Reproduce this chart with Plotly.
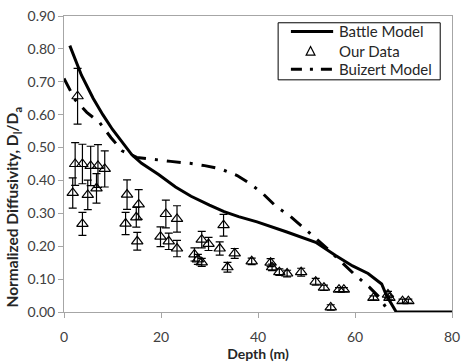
import plotly.graph_objects as go

# Battle model (solid line)
battle_depth = [1.2, 3.6, 6.0, 8.0, 10.0, 12.0, 14.0, 16.0, 19.5, 23.0, 26.2, 30.0, 33.0, 36.0, 39.8,
                45.8, 51.9, 56.0, 59.5, 62.7, 65.5, 66.5, 68.5, 80.0]
battle_val = [0.81, 0.72, 0.65, 0.60, 0.555, 0.515, 0.478, 0.452, 0.418, 0.38, 0.352, 0.325, 0.305,
              0.29, 0.274, 0.244, 0.212, 0.172, 0.14, 0.117, 0.085, 0.05, 0.0, 0.0]

# Buizert model (dash-dot line)
buizert_depth = [0.0, 2.3, 4.7, 7.4, 9.7, 12.0, 15.0, 18.5, 22.0, 26.0, 29.0, 32.3, 35.7, 38.4,
                 41.0, 43.8, 46.5, 51.9, 54.5, 59.7, 63.0, 65.0, 67.0]
buizert_val = [0.71, 0.645, 0.607, 0.575, 0.53, 0.49, 0.47, 0.463, 0.458, 0.452, 0.445, 0.435, 0.415,
               0.39, 0.36, 0.32, 0.293, 0.224, 0.19, 0.117, 0.075, 0.045, 0.0]

# Our data (triangles with error bars)
data_depth = [2.8, 2.3, 3.8, 5.5, 7.0, 8.4, 1.8, 4.9, 6.7, 3.8,
              13.0, 15.4, 12.7, 14.9, 15.1, 21.0, 23.3, 19.9, 21.6, 23.3, 26.9,
              32.9, 28.4, 29.8, 32.1, 27.6, 28.4, 35.2, 33.7, 38.7,
              42.6, 42.9, 44.4, 46.0, 48.9, 51.9, 53.6, 55.0, 56.7, 57.7,
              63.8, 66.8, 67.1, 69.8, 71.0]
data_val = [0.656, 0.45, 0.45, 0.444, 0.444, 0.435, 0.362, 0.356, 0.376, 0.268,
            0.357, 0.327, 0.269, 0.288, 0.215, 0.298, 0.283, 0.229, 0.215, 0.193, 0.175,
            0.264, 0.22, 0.207, 0.193, 0.16, 0.151, 0.178, 0.136, 0.154,
            0.150, 0.136, 0.121, 0.117, 0.121, 0.092, 0.074, 0.014, 0.068, 0.068,
            0.043, 0.053, 0.043, 0.033, 0.033]
data_err = [0.085, 0.065, 0.06, 0.06, 0.065, 0.055, 0.046, 0.045, 0.045, 0.035,
            0.045, 0.045, 0.034, 0.03, 0.027, 0.042, 0.04, 0.03, 0.025, 0.025, 0.02,
            0.033, 0.025, 0.02, 0.02, 0.015, 0.012, 0.015, 0.015, 0.01,
            0.012, 0.01, 0.01, 0.01, 0.012, 0.01, 0.008, 0.008, 0.006, 0.006,
            0.006, 0.01, 0.006, 0.006, 0.006]

x_ticks = [0, 20, 40, 60, 80]
y_ticks = [0.0, 0.1, 0.2, 0.3, 0.4, 0.5, 0.6, 0.7, 0.8, 0.9]
legend_names = ["Battle Model", "Our Data", "Buizert Model"]

FONT = "Lato"
TXT = "#262626"
BUIZERT_DASH = "14px,9px,3px,9px"

fig = go.Figure()
fig.add_trace(go.Scatter(x=battle_depth, y=battle_val, mode="lines", name=legend_names[0],
                         line=dict(color="black", width=3), showlegend=False))
fig.add_trace(go.Scatter(x=data_depth, y=data_val, mode="markers", name=legend_names[1],
                         marker=dict(symbol="triangle-up-open", size=10, color="black",
                                     line=dict(width=1.2, color="black")),
                         error_y=dict(type="data", array=data_err, visible=True,
                                      color="black", thickness=1.2, width=4),
                         showlegend=False))
fig.add_trace(go.Scatter(x=buizert_depth, y=buizert_val, mode="lines", name=legend_names[2],
                         line=dict(color="black", width=3, dash=BUIZERT_DASH), showlegend=False))

axis_common = dict(showline=True, mirror=True, linecolor="#a6a6a6", linewidth=1,
                   showgrid=False, zeroline=False, ticks="outside", ticklen=5,
                   tickcolor="#a6a6a6", ticklabeloverflow="allow",
                   tickfont=dict(family=FONT, size=14, color="#404040"))
fig.update_xaxes(range=[0, 80], tickvals=x_ticks, ticklabelstandoff=7, **axis_common,
                 title=dict(text="<b>Depth (m)</b>", font=dict(family=FONT, size=14, color=TXT),
                            standoff=0))
fig.update_yaxes(range=[0, 0.9], tickvals=y_ticks, tickformat=".2f", **axis_common)

# --- custom legend (box, samples, labels) in paper coordinates ---
PW, PH, L, B = 395.0, 306.0, 64.0, 313.0
def px(x):
    return (x - L) / PW
def py(y):
    return (B - y) / PH

shapes = [
    dict(type="rect", xref="paper", yref="paper", x0=px(282), x1=px(447), y0=py(73), y1=py(14),
         line=dict(color="black", width=1), fillcolor="white", layer="above"),
    dict(type="line", xref="paper", yref="paper", x0=px(295), x1=px(338), y0=py(23), y1=py(23),
         line=dict(color="black", width=3), layer="above"),
    dict(type="path", xref="paper", yref="paper",
         path=f"M {px(310.5)} {py(47.5)} L {px(319.5)} {py(47.5)} L {px(315)} {py(38.5)} Z",
         line=dict(color="black", width=1.2), layer="above"),
    dict(type="line", xref="paper", yref="paper", x0=px(295), x1=px(338), y0=py(62), y1=py(62),
         line=dict(color="black", width=3, dash="11px,8px,3px,8px"), layer="above"),
]
annotations = [
    dict(text=name, xref="paper", yref="paper", x=px(342), y=py(yy), xanchor="left",
         yanchor="middle", showarrow=False, font=dict(family=FONT, size=15, color=TXT))
    for name, yy in zip(legend_names, [23, 43, 62])
]
annotations.append(dict(
    text="<b>Normalized Diffusivity, D<sub>l</sub>/D<sub>a</sub></b>", textangle=-90,
    xref="paper", yref="paper", x=0, xshift=13 - L, y=py(205), xanchor="center",
    yanchor="middle", showarrow=False, font=dict(family=FONT, size=15.5, color=TXT)))

fig.update_layout(
    width=467, height=362,
    margin=dict(l=64, r=8, t=7, b=49),
    plot_bgcolor="white", paper_bgcolor="white",
    font=dict(family=FONT, size=14, color=TXT),
    showlegend=False,
    shapes=shapes, annotations=annotations,
)
fig.write_html("out.html")
